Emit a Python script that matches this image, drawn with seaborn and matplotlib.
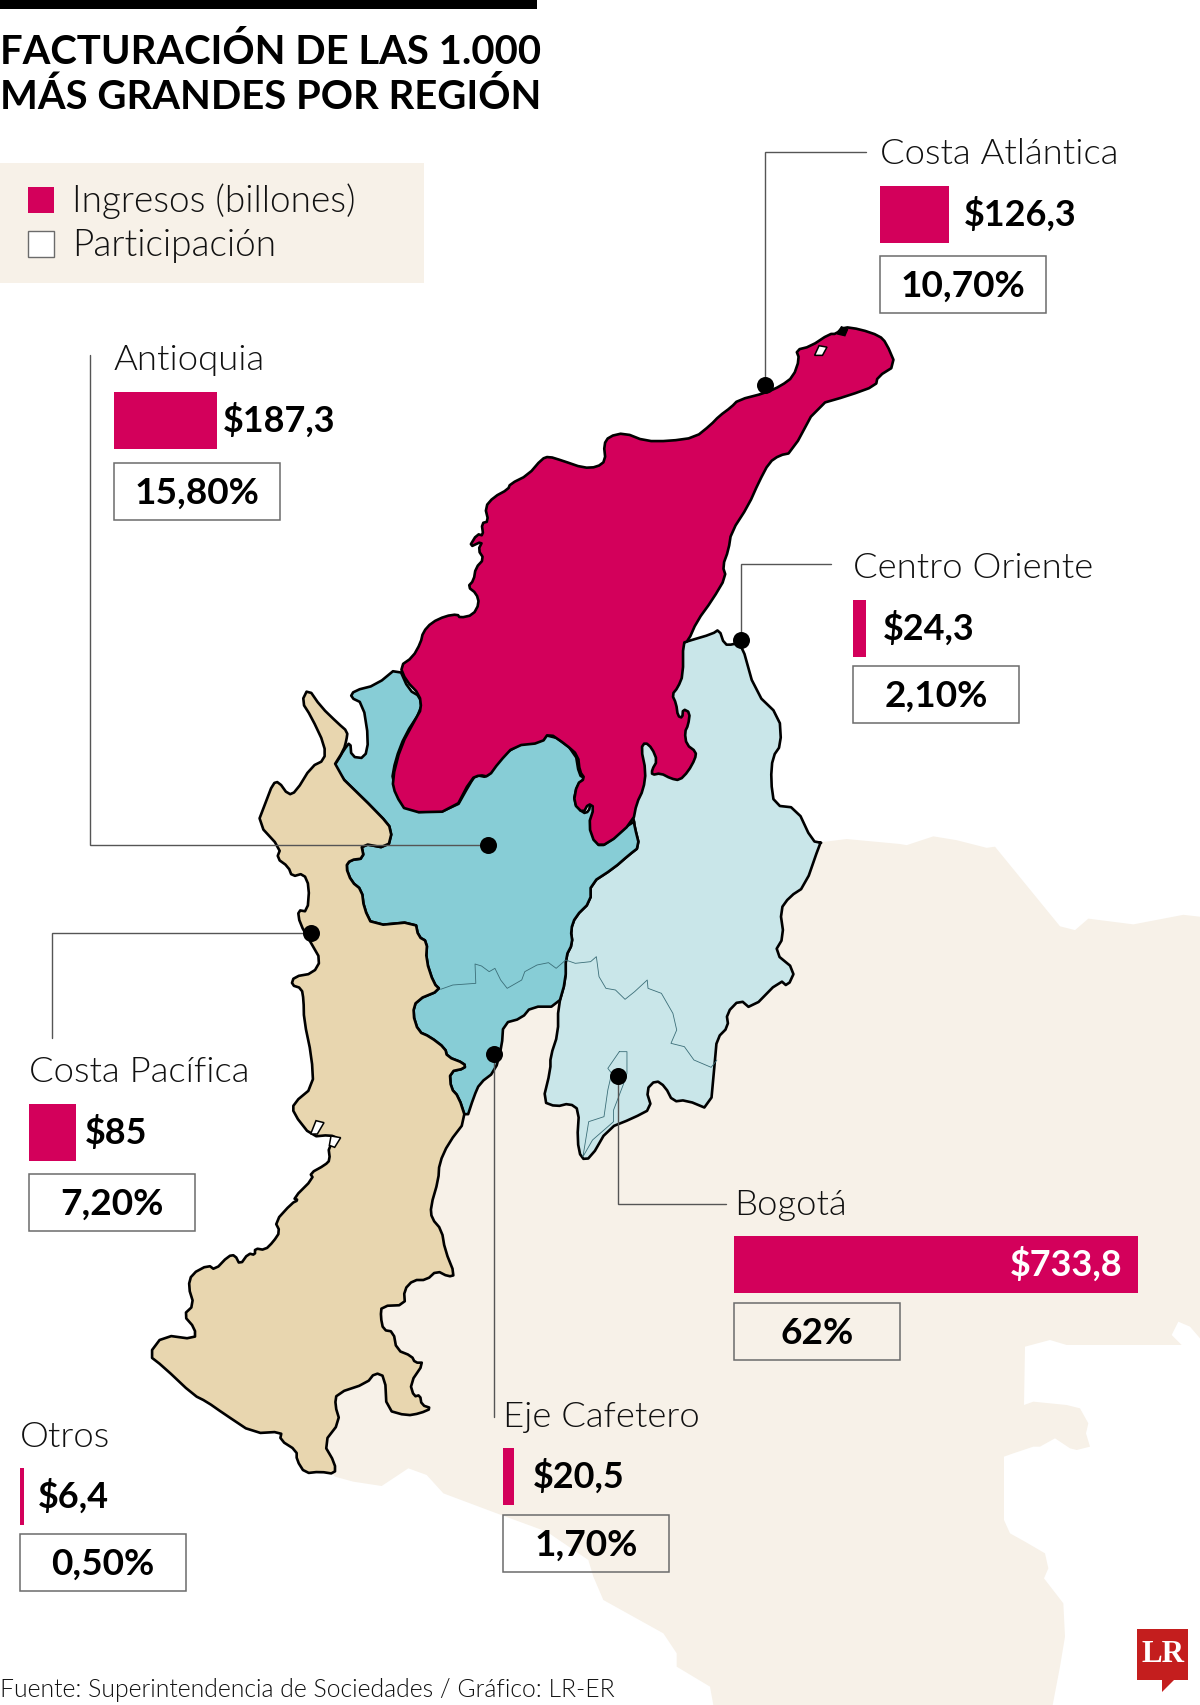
#%% IMPORTS ~~~~~~~~~~~~~~~~~~~~~~~~~~~~~~~~~~~~~~~~~~~~
import matplotlib
matplotlib.use("Agg")
import matplotlib.pyplot as plt
import pandas as pd
import seaborn as sns
from matplotlib.patches import Polygon, Rectangle

#%% DATA ~~~~~~~~~~~~~~~~~~~~~~~~~~~~~~~~~~~~~~~~~~~~
REGIONS = ["Costa Atlántica", "Antioquia", "Centro Oriente", "Costa Pacífica",
           "Bogotá", "Eje Cafetero", "Otros"]
INGRESOS = [126.3, 187.3, 24.3, 85, 733.8, 20.5, 6.4]
INGRESOS_TXT = ["$126,3", "$187,3", "$24,3", "$85", "$733,8", "$20,5", "$6,4"]
PARTICIPACION_TXT = ["10,70%", "15,80%", "2,10%", "7,20%", "62%", "1,70%", "0,50%"]

TITLE_LINES = ["FACTURACIÓN DE LAS 1.000", "MÁS GRANDES POR REGIÓN"]
LEGEND_LABELS = ["Ingresos (billones)", "Participación"]
SOURCE = "Fuente: Superintendencia de Sociedades / Gráfico: LR-ER"

#%% LAYOUT (reference pixels) ~~~~~~~~~~~~~~~~~~~~~~~~~~~~~~~~~~~~~~~~~~~~
W, H = 1200, 1705
PX_PER_BILLON = 0.55
AXIS_MAX = 740

BLOCK_X = [879.5, 114, 853, 29, 734, 503, 20]
BAR_TOP = [186, 392, 600, 1104, 1236, 1448, 1468]
NAME_BASE = [164, 370, 578, 1082, 1215, 1427, 1447]
BOX_TOP = [256, 463, 666, 1174, 1303, 1515, 1534]
LABEL_PAD = [15, 6, 16, 9, -15, 19, 14]
BAR_H = 57
BOX_W, BOX_H = 166, 57

# leader lines, dot is the last point of each one
LEADERS = [
    [(866, 152), (765, 152), (765, 385)],
    [(90, 355), (90, 845), (488, 845)],
    [(831, 564), (741, 564), (741, 640)],
    [(52, 1038), (52, 933), (311, 933)],
    [(726, 1204), (618, 1204), (618, 1076)],
    [(494, 1417), (494, 1054)],
]

CROP_A = (380, 300, 2.904, 2.8)
CROP_B = (250, 660, 2.613, 3)
CROP_C = (120, 1000, 3, 3)
CROP_D = (700, 800, 3, 2.613)
CROP_E = (900, 1250, 3, 3)
CROP_F = (300, 1400, 3, 3)


def trace(points, crop):
    x0, y0, kx, ky = crop
    return [(x0 + x / kx, y0 + y / ky) for x, y in points]


def smooth(points):
    # one pass of corner cutting, the traced outlines are a bit angular
    out = []
    for (x1, y1), (x2, y2) in zip(points, points[1:] + points[:1]):
        out.append((0.75 * x1 + 0.25 * x2, 0.75 * y1 + 0.25 * y2))
        out.append((0.25 * x1 + 0.75 * x2, 0.25 * y1 + 0.75 * y2))
    return out


ATLANTICA = trace([
    (58, 1025), (95, 1000), (118, 960), (125, 930), (150, 903), (190, 885), (225, 880), (232, 890),
    (270, 882), (288, 850), (280, 822), (255, 803), (272, 785), (278, 750), (302, 725), (285, 700),
    (298, 675), (258, 693), (282, 655), (300, 660), (295, 625), (315, 620), (305, 580), (330, 552),
    (372, 530), (378, 515), (430, 490), (470, 445), (490, 438), (530, 450), (590, 470), (630, 468),
    (655, 450), (650, 405), (665, 382), (710, 372), (770, 395), (840, 395), (915, 385), (960, 350),
    (985, 325), (1020, 300), (1040, 280), (1120, 260), (1165, 240), (1200, 215), (1218, 165),
    (1208, 140), (1250, 130), (1305, 95), (1325, 95), (1345, 75), (1395, 82), (1450, 100),
    (1470, 120), (1498, 183), (1445, 215), (1440, 240), (1360, 268), (1270, 293), (1195, 428),
    (1160, 435), (1130, 455), (1100, 510), (1070, 575), (1020, 650), (1012, 700), (995, 745),
    (1005, 775), (965, 840), (920, 900), (895, 955), (880, 960), (880, 1050), (865, 1085),
    (848, 1105), (860, 1130), (865, 1165), (878, 1170), (880, 1145), (900, 1155), (895, 1190),
    (885, 1210), (890, 1245), (918, 1265), (915, 1285), (895, 1320), (870, 1345), (845, 1340),
    (815, 1325), (790, 1330), (790, 1315), (805, 1290), (790, 1255), (770, 1238), (758, 1255),
    (772, 1320), (765, 1370), (745, 1410), (735, 1460), (660, 1525), (625, 1525), (605, 1470),
    (622, 1420), (605, 1410), (590, 1437), (562, 1410), (572, 1355), (595, 1340), (580, 1320),
    (575, 1275), (540, 1245), (490, 1212), (470, 1240), (390, 1248), (345, 1295), (315, 1335),
    (290, 1330), (265, 1340), (215, 1432), (78, 1435), (45, 1385), (35, 1345), (60, 1250),
    (105, 1170), (120, 1145), (115, 1105), (75, 1065)], CROP_A)
ATLANTICA_HOLE = trace([(1262, 155), (1275, 128), (1298, 132), (1285, 155)], CROP_A)
ATLANTICA_BLOB = trace([(1328, 95), (1340, 75), (1358, 82), (1350, 100)], CROP_A)

ANTIOQUIA = trace([
    (388, 20), (415, 90), (445, 110), (448, 150), (405, 225), (380, 300), (370, 365), (410, 457),
    (535, 452), (575, 370), (590, 345), (620, 352), (630, 322), (690, 258), (745, 245), (785, 220),
    (850, 275), (860, 345), (875, 355), (855, 375), (845, 425), (870, 460), (885, 455), (890, 430),
    (900, 440), (890, 490), (905, 555), (930, 555), (1003, 480), (1005, 500), (1018, 560), (990, 585),
    (950, 625), (890, 670), (890, 725), (850, 770), (838, 810), (843, 850), (825, 890), (825, 960),
    (805, 1040), (735, 1040), (710, 1075), (662, 1090), (658, 1160), (640, 1235), (600, 1270),
    (585, 1310), (565, 1380), (545, 1310), (525, 1285), (522, 1235), (562, 1225), (560, 1210),
    (515, 1190), (510, 1165), (470, 1130), (440, 1115), (425, 1060), (435, 1020), (498, 990),
    (480, 970), (460, 900), (463, 845), (440, 830), (432, 785), (320, 797), (298, 745), (292, 690),
    (265, 665), (250, 620), (262, 600), (298, 595), (290, 550), (360, 565), (372, 510), (340, 465),
    (215, 325), (230, 300), (245, 270), (262, 245), (265, 290), (300, 295), (310, 240), (295, 130),
    (262, 112), (272, 92), (330, 75)], CROP_B)

ORIENTE = trace([
    (880, 960), (895, 955), (965, 935), (985, 922), (1000, 965), (1025, 965), (1048, 955), (1090, 1100),
    (1160, 1165), (1165, 1245), (1140, 1280), (1135, 1345), (1145, 1415), (1210, 1422), (1255, 1515),
    (1282, 1520)], CROP_A) + trace([
    (1490, 548), (1450, 680), (1410, 710), (1385, 750), (1395, 830), (1370, 878), (1425, 930),
    (1405, 980), (1385, 960), (1310, 1048), (1280, 1018), (1245, 1060), (1250, 1100), (1220, 1135),
    (1215, 1200), (1203, 1350), (1140, 1320), (1105, 1325), (1085, 1280), (1060, 1260), (1035, 1290),
    (1050, 1345), (1000, 1375), (935, 1405), (890, 1495), (865, 1497), (855, 1440), (860, 1350),
    (835, 1330), (800, 1340), (765, 1325), (785, 1230), (785, 1190), (805, 1120), (805, 1040),
    (825, 960), (825, 890), (843, 850), (838, 810), (850, 770), (890, 725), (890, 670), (950, 625),
    (990, 585), (1018, 560), (1005, 500), (1003, 480)], CROP_B) + trace([(700, 1300), (700, 1000)], CROP_A)

PACIFICA = trace([
    (152, 85), (185, 140), (230, 190), (255, 215), (252, 240), (245, 270), (215, 325), (340, 465),
    (372, 510), (360, 565), (290, 550), (298, 595), (262, 600), (250, 620), (265, 665), (292, 690),
    (298, 745), (320, 797), (432, 785), (440, 830), (463, 845), (460, 900), (480, 970), (498, 990),
    (435, 1020), (425, 1060), (440, 1115), (470, 1130), (510, 1165), (515, 1190), (560, 1210),
    (562, 1225), (522, 1235), (525, 1285), (545, 1310), (565, 1380)], CROP_B) + trace([
    (985, 430), (958, 490), (955, 540), (932, 620), (935, 655), (965, 690), (975, 750), (1005, 825),
    (985, 830), (950, 812), (920, 840), (880, 840), (852, 870), (855, 915), (785, 918), (782, 950),
    (790, 990), (820, 995), (830, 1050), (875, 1068), (885, 1088), (912, 1088), (870, 1150), (882, 1190),
    (900, 1185), (905, 1215), (935, 1225), (900, 1240), (860, 1247), (800, 1230), (795, 1130),
    (765, 1118), (740, 1150), (650, 1180), (645, 1215), (660, 1265), (610, 1330), (645, 1390),
    (645, 1422), (600, 1415), (555, 1420), (530, 1380), (530, 1352), (480, 1320), (485, 1295),
    (400, 1300), (310, 1240), (260, 1205), (220, 1185), (130, 1100), (85, 1065), (130, 1005),
    (225, 1018), (225, 985), (190, 945), (222, 915), (205, 860), (215, 822), (265, 795), (285, 810),
    (325, 768), (345, 765), (360, 795), (385, 760), (405, 765), (405, 745), (435, 750), (460, 725),
    (480, 695), (465, 665), (515, 610), (535, 600), (520, 595), (580, 535), (570, 520), (615, 495),
    (630, 480), (625, 440), (655, 415), (630, 405), (575, 410), (520, 340), (520, 310), (580, 260),
    (575, 170), (552, 60)], CROP_C) + trace([
    (140, 1020), (135, 985), (108, 975), (115, 950), (165, 940), (185, 900), (160, 850), (130, 790),
    (125, 750), (150, 755), (155, 680), (140, 640), (110, 650), (100, 620), (70, 595), (80, 565),
    (20, 490), (40, 430), (60, 370), (75, 365), (100, 405), (120, 395), (160, 320), (195, 300),
    (195, 255), (160, 170), (135, 125)], CROP_B)
PACIFICA_HOLES = [trace([(572, 402), (588, 362), (612, 368), (592, 402)], CROP_C),
                  trace([(628, 436), (633, 408), (662, 413), (644, 442)], CROP_C)]

# land behind the regions, its west side stays hidden under them
LAND = trace([
    (365, 110), (440, 102), (600, 115), (620, 118), (700, 95), (770, 105), (860, 125), (885, 122),
    (1080, 330), (1125, 340), (1165, 310), (1300, 325), (1450, 300), (1500, 305)], CROP_D) + trace([
    (900, 265), (870, 230), (835, 215), (815, 255), (845, 285), (500, 285), (450, 270), (375, 290),
    (372, 465), (400, 455), (500, 465), (540, 475), (565, 520), (558, 550), (570, 590), (530, 600),
    (510, 595), (465, 565), (420, 590), (400, 590), (340, 610), (312, 620), (312, 810), (330, 850),
    (375, 875), (435, 910), (445, 955), (432, 985), (490, 1060), (495, 1160), (480, 1250),
    (458, 1365)], CROP_E) + trace([
    (1240, 915), (1230, 860), (1130, 800), (1130, 760), (1090, 700), (1000, 650), (910, 600),
    (880, 530), (865, 480), (740, 395), (590, 340), (430, 280), (380, 225), (325, 205), (295, 225),
    (245, 258), (160, 245), (105, 230)], CROP_F) + [(300, 1440), (440, 1120), (480, 1000), (600, 900)]

DEPT_LINE = trace([
    (498, 988), (530, 975), (590, 970), (588, 912), (605, 918), (625, 935), (640, 925), (655, 960),
    (672, 985), (710, 960), (718, 935), (750, 915), (780, 908), (800, 925), (825, 900), (850, 910),
    (890, 905), (905, 890), (912, 950), (930, 985), (955, 990), (980, 1018), (1005, 995), (1038, 960),
    (1040, 985), (1075, 1000), (1105, 1060), (1115, 1110), (1100, 1150), (1135, 1160), (1160, 1200),
    (1205, 1222), (1220, 1200)], CROP_B)
BOGOTA_LINE = trace([
    (965, 1175), (985, 1175), (985, 1240), (975, 1275), (950, 1350), (950, 1385), (895, 1440),
    (870, 1490), (885, 1385), (925, 1370), (935, 1290), (945, 1240), (935, 1225), (965, 1175)], CROP_B)

#%% STYLE ~~~~~~~~~~~~~~~~~~~~~~~~~~~~~~~~~~~~~~~~~~~~
PINK = "#D3005B"
CREAM = "#F7F1E8"
SAND = "#E8D6AF"
TEAL = "#87CDD6"
PALE = "#C9E6E9"
LINE_GREY = "#555555"
BOX_GREY = "#6B6B6B"
LIGHT_WEIGHT = 300

sns.set_theme(style="white")
plt.rcParams["font.family"] = ["Lato", "DejaVu Sans"]


def pt(px):
    return px * 0.72


#%% FIGURE ~~~~~~~~~~~~~~~~~~~~~~~~~~~~~~~~~~~~~~~~~~~~
fig = plt.figure(figsize=(W / 100, H / 100), dpi=100, facecolor="white")
ax = fig.add_axes([0, 0, 1, 1])
ax.set_xlim(0, W)
ax.set_ylim(H, 0)
ax.axis("off")

# --- map ---
ax.add_patch(Polygon(LAND, closed=True, fc=CREAM, ec="none", zorder=1))
for outline, colour, z in [(ORIENTE, PALE, 2), (ANTIOQUIA, TEAL, 3), (PACIFICA, SAND, 4), (ATLANTICA, PINK, 5)]:
    ax.add_patch(Polygon(smooth(outline), closed=True, fc=colour, ec="black", lw=1.9,
                         joinstyle="round", zorder=z))
for hole in PACIFICA_HOLES + [ATLANTICA_HOLE]:
    ax.add_patch(Polygon(hole, closed=True, fc="white", ec="black", lw=1.1, zorder=6))
ax.add_patch(Polygon(ATLANTICA_BLOB, closed=True, fc="black", ec="black", lw=1, zorder=6))
for thin in [DEPT_LINE, BOGOTA_LINE]:
    ax.plot(*zip(*thin), color="#3B6E78", lw=0.6, zorder=6)

# --- leaders and dots ---
for leader in LEADERS:
    ax.plot(*zip(*leader), color=LINE_GREY, lw=1.0, solid_joinstyle="miter", zorder=7)
sns.scatterplot(x=[p[-1][0] for p in LEADERS], y=[p[-1][1] for p in LEADERS], ax=ax,
                color="black", s=150, linewidth=0, zorder=8, legend=False)
ax.set_xlim(0, W)
ax.set_ylim(H, 0)

# --- title, legend, source ---
ax.add_patch(Rectangle((0, 0), 537, 9, fc="black", ec="none", zorder=9))
for line, base in zip(TITLE_LINES, [64, 109]):
    ax.text(0, base, line, fontsize=pt(40), fontweight="bold", color="black", va="baseline", zorder=9)

ax.add_patch(Rectangle((0, 163), 424, 120, fc=CREAM, ec="none", zorder=9))
ax.add_patch(Rectangle((28, 187), 26, 26, fc=PINK, ec="none", zorder=10))
ax.add_patch(Rectangle((28, 231), 26, 26, fc="white", ec=BOX_GREY, lw=1, zorder=10))
for label, base in zip(LEGEND_LABELS, [212, 256]):
    ax.text(72, base, label, fontsize=pt(37), fontweight=LIGHT_WEIGHT, color="#111111", va="baseline", zorder=10)

ax.text(0, 1697, SOURCE, fontsize=pt(24.8), fontweight=LIGHT_WEIGHT, color="#111111", va="baseline", zorder=9)

# --- LR logo ---
ax.add_patch(Polygon([(1137, 1629), (1188, 1629), (1188, 1680), (1174, 1680), (1162, 1692),
                      (1162, 1680), (1137, 1680)], closed=True, fc="#C41E1E", ec="none", zorder=9))
ax.text(1162.5, 1654, "LR", fontsize=pt(31), fontweight="bold", family="Liberation Serif", color="white",
        ha="center", va="center", zorder=10)

# --- one small bar axes per region, all on the same value scale ---
ingresos_df = pd.DataFrame({"region": REGIONS, "ingresos": INGRESOS})
for i, region in enumerate(REGIONS):
    ax.text(BLOCK_X[i], NAME_BASE[i], region, fontsize=pt(36.5), fontweight=LIGHT_WEIGHT, color="#111111",
            va="baseline", zorder=10)
    ax.add_patch(Rectangle((BLOCK_X[i], BOX_TOP[i]), BOX_W, BOX_H, fc="none", ec=BOX_GREY, lw=1.1, zorder=10))
    ax.text(BLOCK_X[i] + BOX_W / 2, BOX_TOP[i] + BOX_H / 2 + 2, PARTICIPACION_TXT[i], fontsize=pt(37),
            fontweight="bold", color="black", ha="center", va="center", zorder=10)

    bar_w = AXIS_MAX * PX_PER_BILLON
    ax_bar = fig.add_axes([BLOCK_X[i] / W, 1 - (BAR_TOP[i] + BAR_H) / H, bar_w / W, BAR_H / H])
    sns.barplot(data=ingresos_df.iloc[[i]], x="ingresos", y="region", ax=ax_bar, color=PINK,
                saturation=1, width=1, linewidth=0)
    ax_bar.set_xlim(0, AXIS_MAX)
    ax_bar.axis("off")
    inside = LABEL_PAD[i] < 0
    bar_texts = ax_bar.bar_label(ax_bar.containers[0], labels=[INGRESOS_TXT[i]], padding=pt(LABEL_PAD[i]),
                                 fontsize=pt(36), fontweight="bold", color="white" if inside else "black")
    if inside:
        bar_texts[0].set_ha("right")

fig.savefig("out.png", dpi=100, facecolor="white")
